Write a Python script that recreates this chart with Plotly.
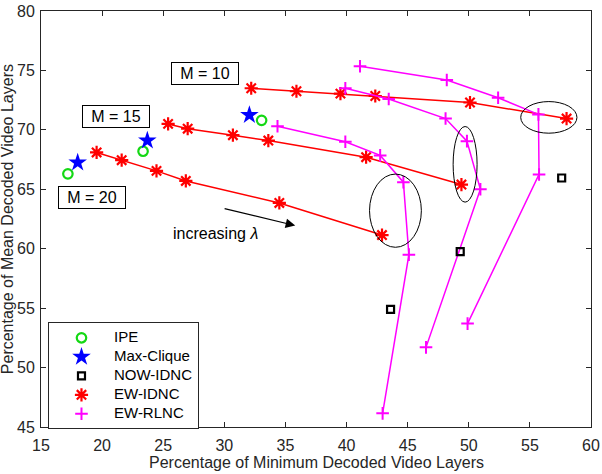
import plotly.graph_objects as go

# ---------------- data ----------------
ipe_x = [17.2, 23.35, 33.05]
ipe_y = [66.3, 68.2, 70.8]

mc_x = [18.0, 23.7, 32.05]
mc_y = [67.25, 69.1, 71.25]

now_x = [43.6, 49.3, 57.6]
now_y = [54.9, 59.75, 65.95]

idnc_m10_x = [32.2, 35.9, 39.5, 42.35, 50.1, 58.0]
idnc_m10_y = [73.5, 73.25, 73.05, 72.85, 72.3, 70.95]
idnc_m15_x = [25.4, 27.0, 30.7, 33.6, 41.6, 49.4]
idnc_m15_y = [70.5, 70.1, 69.55, 69.1, 67.7, 65.4]
idnc_m20_x = [19.55, 21.6, 24.45, 26.85, 34.5, 42.9]
idnc_m20_y = [68.1, 67.45, 66.55, 65.7, 63.85, 61.15]

rlnc_a_x = [41.1, 48.2, 52.4, 55.7, 55.75, 49.9]
rlnc_a_y = [75.35, 74.2, 72.7, 71.3, 66.25, 53.7]
rlnc_b_x = [39.9, 43.45, 48.1, 49.85, 50.95, 46.5]
rlnc_b_y = [73.5, 72.6, 70.95, 69.05, 65.0, 51.7]
rlnc_c_x = [34.35, 39.9, 42.75, 44.65, 45.1, 42.95]
rlnc_c_y = [70.3, 69.0, 67.85, 65.6, 59.5, 46.15]

# ellipses: (cx, cy, rx, ry)
ellipses = [(56.55, 71.05, 2.3, 1.33), (49.7, 67.1, 0.98, 3.18), (44.0, 63.2, 2.12, 3.08)]

labels = ["IPE", "Max-Clique", "NOW-IDNC", "EW-IDNC", "EW-RLNC"]
box_labels = ["M = 10", "M = 15", "M = 20"]
box_pos = [(28.4, 74.7), (21.1, 71.15), (19.15, 64.3)]

x_ticks = [15, 20, 25, 30, 35, 40, 45, 50, 55, 60]
y_ticks = [45, 50, 55, 60, 65, 70, 75, 80]

x_title = "Percentage of Minimum Decoded Video Layers"
y_title = "Percentage of Mean Decoded Video Layers"

# ---------------- style ----------------
FONT = "Liberation Sans, Arial, Helvetica, sans-serif"
AX = "#262626"
RED = "#ff0000"
MAG = "#ff00ff"
GRN = "#14d814"
BLU = "#0000ff"

m_ipe = dict(symbol="circle-open", size=9.5, color=GRN, line=dict(width=2.2, color=GRN))
m_mc = dict(symbol="star", size=14, color=BLU, line=dict(width=0))
m_now = dict(symbol="square-open", size=7, color="black", line=dict(width=2.2, color="black"))
m_idnc = dict(symbol="asterisk-open", size=11, color=RED, line=dict(width=2.2, color=RED))
m_rlnc = dict(symbol="cross-thin-open", size=9, color=MAG, line=dict(width=2, color=MAG))

fig = go.Figure()

for xs, ys in [(idnc_m10_x, idnc_m10_y), (idnc_m15_x, idnc_m15_y), (idnc_m20_x, idnc_m20_y)]:
    fig.add_trace(go.Scatter(x=xs, y=ys, mode="lines+markers", line=dict(color=RED, width=1.5),
                             marker=m_idnc, showlegend=False))
for xs, ys in [(rlnc_a_x, rlnc_a_y), (rlnc_b_x, rlnc_b_y), (rlnc_c_x, rlnc_c_y)]:
    fig.add_trace(go.Scatter(x=xs, y=ys, mode="lines+markers", line=dict(color=MAG, width=1.5),
                             marker=m_rlnc, showlegend=False))
fig.add_trace(go.Scatter(x=ipe_x, y=ipe_y, mode="markers", marker=m_ipe, showlegend=False))
fig.add_trace(go.Scatter(x=mc_x, y=mc_y, mode="markers", marker=m_mc, showlegend=False))
fig.add_trace(go.Scatter(x=now_x, y=now_y, mode="markers", marker=m_now, showlegend=False))

# legend-only entries (markers only, as in the reference)
for name, mk in zip(labels, [m_ipe, m_mc, m_now, m_idnc, m_rlnc]):
    fig.add_trace(go.Scatter(x=[None], y=[None], mode="markers", marker=mk,
                             name='<span style="font-size:15px">' + name + '</span>', showlegend=True))

shapes = []
for cx, cy, rx, ry in ellipses:
    shapes.append(dict(type="circle", xref="x", yref="y", x0=cx - rx, x1=cx + rx, y0=cy - ry, y1=cy + ry,
                       line=dict(color="black", width=1)))

annotations = []
for t, (bx, by) in zip(box_labels, box_pos):
    annotations.append(dict(x=bx, y=by, xref="x", yref="y", text=t, showarrow=False,
                            font=dict(family=FONT, size=16, color="black"),
                            bordercolor="black", borderwidth=1, borderpad=0, bgcolor="white",
                            width=66, height=21))
annotations.append(dict(x=35.8, y=61.95, ax=29.9, ay=63.4, xref="x", yref="y", axref="x", ayref="y",
                        text="", showarrow=True, arrowhead=2, arrowsize=1.6, arrowwidth=1.2,
                        arrowcolor="black"))
annotations.append(dict(x=29.3, y=61.3, xref="x", yref="y", text="increasing <i>λ</i>", showarrow=False,
                        font=dict(family=FONT, size=16, color="black")))
# axis titles as annotations (exact placement, no margin clamping)
annotations.append(dict(x=0.5, y=-0.0865, xref="paper", yref="paper", text=x_title, showarrow=False,
                        xanchor="center", yanchor="middle",
                        font=dict(family=FONT, size=16, color=AX)))
annotations.append(dict(x=-0.0615, y=0.5, xref="paper", yref="paper", text=y_title, showarrow=False,
                        xanchor="center", yanchor="middle", textangle=-90,
                        font=dict(family=FONT, size=16, color=AX)))

fig.update_layout(
    width=602, height=474,
    margin=dict(l=41, r=11, t=11, b=47, pad=0, autoexpand=False),
    paper_bgcolor="white", plot_bgcolor="white",
    font=dict(family=FONT, size=16, color=AX),
    shapes=shapes, annotations=annotations,
    legend=dict(x=0.0127, y=0.2517, xanchor="left", yanchor="top",
                bgcolor="white", bordercolor=AX, borderwidth=1,
                font=dict(family=FONT, size=11.5, color="black"),
                itemwidth=55, tracegroupgap=0),
)
fig.update_xaxes(range=[15, 60], tickvals=x_ticks, ticks="inside", ticklen=5, tickcolor=AX,
                 showline=True, linecolor=AX, linewidth=1, mirror="ticks", showgrid=False, zeroline=False,
                 automargin=False,
                 tickfont=dict(family=FONT, size=16, color=AX), ticklabelstandoff=4)
fig.update_yaxes(range=[45, 80], tickvals=y_ticks, ticks="inside", ticklen=5, tickcolor=AX,
                 showline=True, linecolor=AX, linewidth=1, mirror="ticks", showgrid=False, zeroline=False,
                 automargin=False,
                 tickfont=dict(family=FONT, size=16, color=AX), ticklabelstandoff=2)

fig.write_html("out.html")
